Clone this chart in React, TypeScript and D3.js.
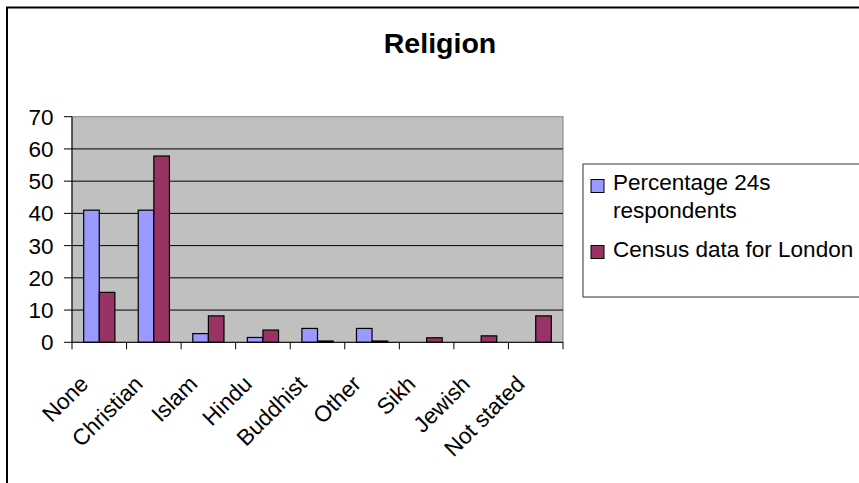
import React from "react";
import * as d3 from "d3";

const categories = ["None", "Christian", "Islam", "Hindu", "Buddhist", "Other", "Sikh", "Jewish", "Not stated"];
const respondents = [41, 41, 2.7, 1.5, 4.3, 4.3, 0, 0, 0];
const census = [15.5, 57.8, 8.2, 3.8, 0.4, 0.4, 1.4, 2.0, 8.2];
const yTicks = [0, 10, 20, 30, 40, 50, 60, 70];
const seriesNames = ["Percentage 24s respondents", "Census data for London"];
const colors = ["#9999FF", "#993366"];

const W = 859;
const H = 483;
const plot = { left: 72, right: 563, top: 116.7, bottom: 342.3 };
const FONT = "Arial, 'Liberation Sans', sans-serif";
const FS = 22.5;

export default function App() {
  const x = d3.scaleBand<string>().domain(categories).range([plot.left, plot.right]).paddingInner(0).paddingOuter(0);
  const y = d3.scaleLinear().domain([0, 70]).range([plot.bottom, plot.top]);
  const bw = x.bandwidth() / 3.5;
  const offset = x.bandwidth() * (0.75 / 3.5);
  const series = [respondents, census];
  const boundaries = categories.map((c) => x(c)!).concat([plot.right]);

  return (
    <svg width={W} height={H} style={{ position: "absolute", left: 0, top: 0 }} fontFamily={FONT}>
      <rect x={0} y={0} width={W} height={H} fill="#fff" />
      <rect x={7} y={7.5} width={W + 20} height={H + 20} fill="#fff" stroke="#000" strokeWidth={2} />
      <text x={440} y={53} textAnchor="middle" fontSize={28.5} fontWeight="bold">Religion</text>

      <rect x={plot.left} y={plot.top} width={plot.right - plot.left} height={plot.bottom - plot.top} fill="#C0C0C0" stroke="#808080" strokeWidth={1} />
      {yTicks.filter((t) => t > 0 && t < 70).map((t) => (
        <line key={t} x1={plot.left} x2={plot.right} y1={y(t)} y2={y(t)} stroke="#000" strokeWidth={1} />
      ))}

      {series.map((vals, si) =>
        vals.map((v, i) => (
          <rect key={`${si}-${i}`} x={x(categories[i])! + offset + si * bw} y={y(v)} width={bw} height={y(0) - y(v)} fill={colors[si]} stroke="#000" strokeWidth={1.2} />
        ))
      )}

      <line x1={plot.left} x2={plot.left} y1={plot.top} y2={plot.bottom} stroke="#000" strokeWidth={1} />
      <line x1={plot.left} x2={plot.right} y1={plot.bottom} y2={plot.bottom} stroke="#000" strokeWidth={1} />
      {yTicks.map((t) => (
        <g key={t}>
          <line x1={plot.left - 8} x2={plot.left} y1={y(t)} y2={y(t)} stroke="#000" />
          <text x={53.5} y={y(t)} dy="0.36em" textAnchor="end" fontSize={FS}>{t}</text>
        </g>
      ))}
      {boundaries.map((b, i) => (
        <line key={i} x1={b} x2={b} y1={plot.bottom} y2={plot.bottom + 7} stroke="#000" />
      ))}
      {categories.map((c) => (
        <text key={c} transform={`translate(${x(c)! + x.bandwidth() / 2 - 21},${374}) rotate(-45)`} textAnchor="end" dy="0.71em" fontSize={FS}>{c}</text>
      ))}

      <rect x={583} y={164} width={320} height={133} fill="#fff" stroke="#333" strokeWidth={1} />
      <rect x={591} y={179.5} width={13} height={13} fill={colors[0]} stroke="#000" />
      <text x={613} y={190} fontSize={FS}>Percentage 24s</text>
      <text x={613} y={218} fontSize={FS}>respondents</text>
      <rect x={591} y={245.5} width={13} height={13} fill={colors[1]} stroke="#000" />
      <text x={613} y={257} fontSize={FS}>{seriesNames[1]}</text>
    </svg>
  );
}
